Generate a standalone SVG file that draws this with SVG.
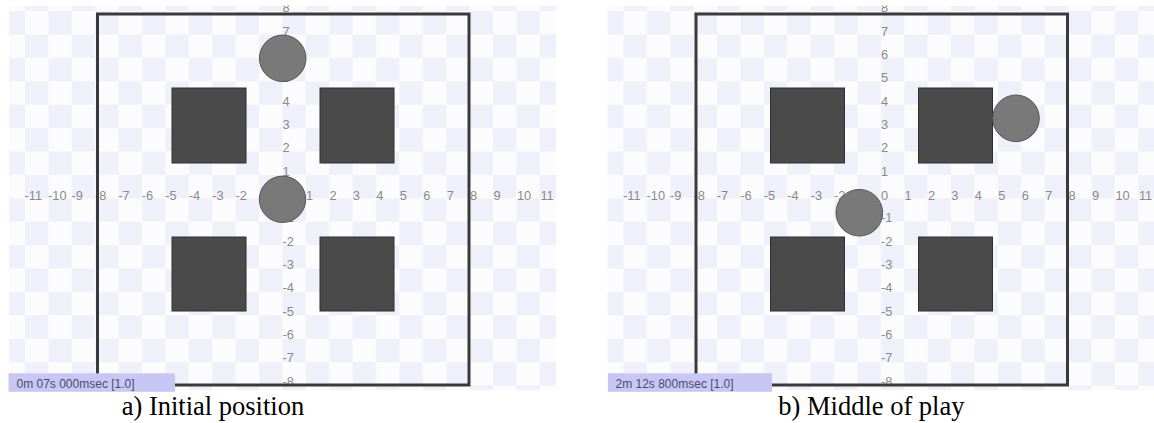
<svg xmlns="http://www.w3.org/2000/svg" width="1154" height="423" viewBox="0 0 1154 423">
<style>
.lbl{font-family:"Liberation Sans",Arial,sans-serif;font-size:12.8px;fill:#8a8a8a}
.sq{fill:#4a4a4a;stroke:#2f2f2f;stroke-width:1}
.ball{fill:#797979;stroke:#555;stroke-width:1}
.frame{fill:none;stroke:#3a3a3a;stroke-width:3}
.bar{fill:#c7c7f5}
.bartxt{font-family:"Liberation Sans",Arial,sans-serif;font-size:12px;fill:#4c4c68}
.cap{font-family:"Liberation Serif","Times New Roman",serif;font-size:26.5px;fill:#000}
</style>
<defs>
<pattern id="chk" patternUnits="userSpaceOnUse" x="25" y="34.5" width="46.8" height="46.8">
<rect width="46.8" height="46.8" fill="#fcfcff"/>
<rect width="23.4" height="23.4" fill="#f0f0fa"/>
<rect x="23.4" y="23.4" width="23.4" height="23.4" fill="#f0f0fa"/>
</pattern>
<clipPath id="clipLbl"><rect x="0" y="5.5" width="600" height="381.5"/></clipPath>
</defs>

<g id="panel-a">
<rect id="board-a" x="9" y="6" width="547" height="384" fill="url(#chk)"/>
<g id="labels-a" class="lbl" clip-path="url(#clipLbl)">
<text x="24.55" y="199.5">-11</text><text x="48" y="199.5">-10</text><text x="71.45" y="199.5">-9</text><text x="94.9" y="199.5">-8</text><text x="118.35" y="199.5">-7</text><text x="141.8" y="199.5">-6</text><text x="165.25" y="199.5">-5</text><text x="188.7" y="199.5">-4</text><text x="212.15" y="199.5">-3</text><text x="235.6" y="199.5">-2</text><text x="259.05" y="199.5">-1</text><text x="282.5" y="199.5">0</text><text x="305.95" y="199.5">1</text><text x="329.4" y="199.5">2</text><text x="352.85" y="199.5">3</text><text x="376.3" y="199.5">4</text><text x="399.75" y="199.5">5</text><text x="423.2" y="199.5">6</text><text x="446.65" y="199.5">7</text><text x="470.1" y="199.5">8</text><text x="493.55" y="199.5">9</text><text x="517" y="199.5">10</text><text x="540.45" y="199.5">11</text>
<text x="282.5" y="12.2">8</text><text x="282.5" y="35.55">7</text><text x="282.5" y="58.9">6</text><text x="282.5" y="82.25">5</text><text x="282.5" y="105.6">4</text><text x="282.5" y="128.95">3</text><text x="282.5" y="152.3">2</text><text x="282.5" y="175.65">1</text><text x="282.5" y="222.35">-1</text><text x="282.5" y="245.7">-2</text><text x="282.5" y="269.05">-3</text><text x="282.5" y="292.4">-4</text><text x="282.5" y="315.75">-5</text><text x="282.5" y="339.1">-6</text><text x="282.5" y="362.45">-7</text><text x="282.5" y="385.8">-8</text>
</g>
<g id="obstacles-a">
<rect class="sq" x="172" y="88" width="74" height="75"/>
<rect class="sq" x="320" y="88" width="74" height="75"/>
<rect class="sq" x="172" y="237" width="74" height="74"/>
<rect class="sq" x="320" y="237" width="74" height="74"/>
</g>
<rect id="frame-a" class="frame" x="97.5" y="14" width="371.5" height="371"/>
<g id="balls-a">
<circle class="ball" cx="282.7" cy="58.3" r="23.3"/>
<circle class="ball" cx="282.5" cy="199.3" r="23.2"/>
</g>
<g id="status-a">
<rect class="bar" x="8.5" y="373.3" width="166.5" height="18.5"/>
<text class="bartxt" x="16.5" y="387.5">0m 07s 000msec [1.0]</text>
</g>
<text id="caption-a" class="cap" x="121.7" y="415">a) Initial position</text>
</g>

<g id="panel-b" transform="translate(598.5,0)">
<rect id="board-b" x="9" y="6" width="547" height="384" fill="url(#chk)"/>
<g id="labels-b" class="lbl" clip-path="url(#clipLbl)">
<text x="24.55" y="199.5">-11</text><text x="48" y="199.5">-10</text><text x="71.45" y="199.5">-9</text><text x="94.9" y="199.5">-8</text><text x="118.35" y="199.5">-7</text><text x="141.8" y="199.5">-6</text><text x="165.25" y="199.5">-5</text><text x="188.7" y="199.5">-4</text><text x="212.15" y="199.5">-3</text><text x="235.6" y="199.5">-2</text><text x="259.05" y="199.5">-1</text><text x="282.5" y="199.5">0</text><text x="305.95" y="199.5">1</text><text x="329.4" y="199.5">2</text><text x="352.85" y="199.5">3</text><text x="376.3" y="199.5">4</text><text x="399.75" y="199.5">5</text><text x="423.2" y="199.5">6</text><text x="446.65" y="199.5">7</text><text x="470.1" y="199.5">8</text><text x="493.55" y="199.5">9</text><text x="517" y="199.5">10</text><text x="540.45" y="199.5">11</text>
<text x="282.5" y="12.2">8</text><text x="282.5" y="35.55">7</text><text x="282.5" y="58.9">6</text><text x="282.5" y="82.25">5</text><text x="282.5" y="105.6">4</text><text x="282.5" y="128.95">3</text><text x="282.5" y="152.3">2</text><text x="282.5" y="175.65">1</text><text x="282.5" y="222.35">-1</text><text x="282.5" y="245.7">-2</text><text x="282.5" y="269.05">-3</text><text x="282.5" y="292.4">-4</text><text x="282.5" y="315.75">-5</text><text x="282.5" y="339.1">-6</text><text x="282.5" y="362.45">-7</text><text x="282.5" y="385.8">-8</text>
</g>
<g id="obstacles-b">
<rect class="sq" x="172" y="88" width="74" height="75"/>
<rect class="sq" x="320" y="88" width="74" height="75"/>
<rect class="sq" x="172" y="237" width="74" height="74"/>
<rect class="sq" x="320" y="237" width="74" height="74"/>
</g>
<rect id="frame-b" class="frame" x="97.5" y="14" width="371.5" height="371"/>
<g id="balls-b">
<circle class="ball" cx="417.5" cy="118.3" r="23.3"/>
<circle class="ball" cx="260.8" cy="212.7" r="23.3"/>
</g>
<g id="status-b">
<rect class="bar" x="9.5" y="373.3" width="164" height="18.5"/>
<text class="bartxt" x="17" y="387.5">2m 12s 800msec [1.0]</text>
</g>
<text id="caption-b" class="cap" x="179.8" y="415">b) Middle of play</text>
</g>
</svg>
